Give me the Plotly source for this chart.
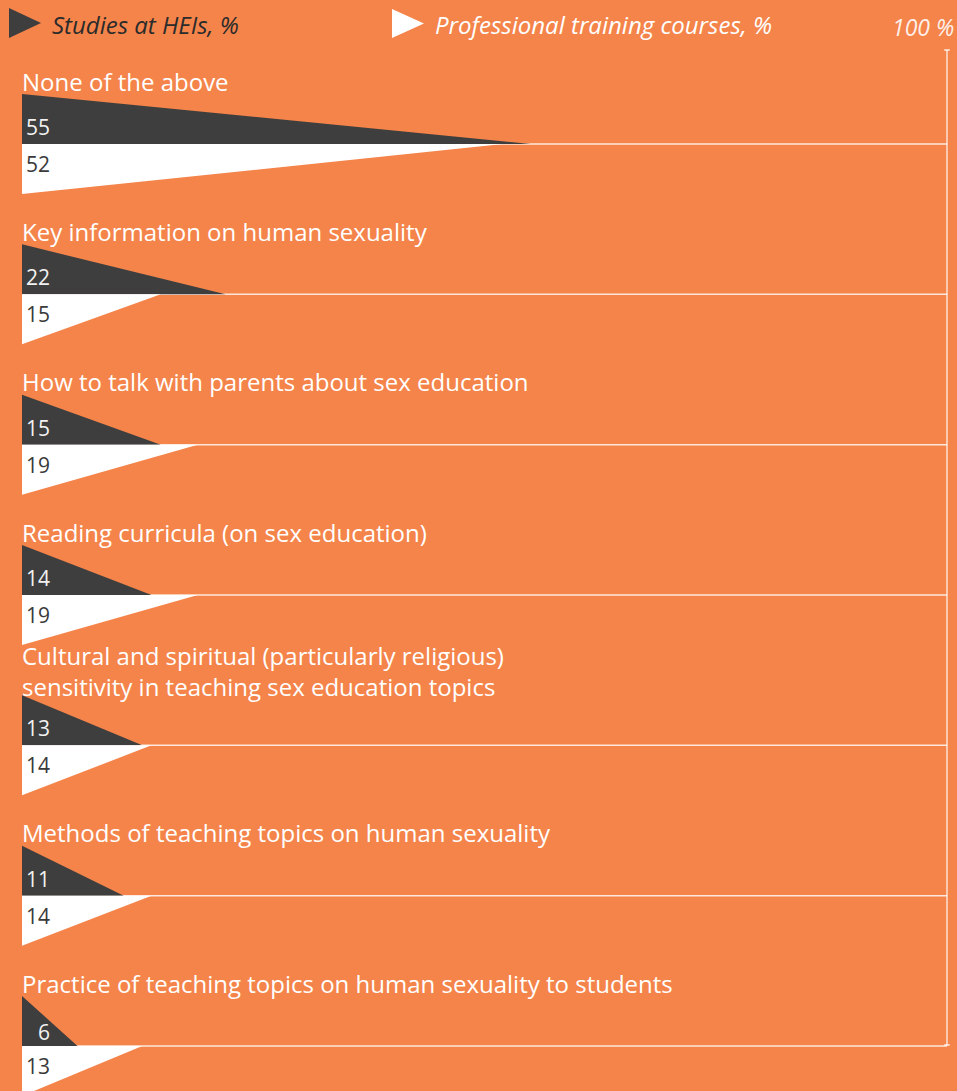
import plotly.graph_objects as go

categories = [
    "None of the above",
    "Key information on human sexuality",
    "How to talk with parents about sex education",
    "Reading curricula (on sex education)",
    "Cultural and spiritual (particularly religious)<br>sensitivity in teaching sex education topics",
    "Methods of teaching topics on human sexuality",
    "Practice of teaching topics on human sexuality to students",
]
studies_hei = [55, 22, 15, 14, 13, 11, 6]
prof_training = [52, 15, 19, 19, 14, 14, 13]
series_names = ["Studies at HEIs, %", "Professional training courses, %"]

W, H = 957, 1091
BG = "#F4844A"
DARK = "#3E3E3E"
WHITE = "#FFFFFF"
FONT = "Open Sans"

# x axis: value 0 -> px 22, value 100 -> px 947
px_per_unit = 9.25
x0 = -22 / px_per_unit
x1 = x0 + W / px_per_unit

first_base, last_base = 144, 1046
n = len(categories)
step = (last_base - first_base) / (n - 1)
tri_h = 50

fig = go.Figure()
shapes = []
annotations = []

for i, (cat, a, b) in enumerate(zip(categories, studies_hei, prof_training)):
    base = first_base + i * step
    shapes.append(dict(type="line", xref="x", yref="y", x0=0, x1=100, y0=base, y1=base,
                       line=dict(color="rgba(255,255,255,0.8)", width=1.5), layer="below"))
    fig.add_trace(go.Scatter(x=[0, a, 0, 0], y=[base, base, base - tri_h, base],
                             fill="toself", fillcolor=DARK, mode="lines",
                             line=dict(width=0, color=DARK), hoverinfo="skip", showlegend=False))
    fig.add_trace(go.Scatter(x=[0, b, 0, 0], y=[base, base, base + tri_h, base],
                             fill="toself", fillcolor=WHITE, mode="lines",
                             line=dict(width=0, color=WHITE), hoverinfo="skip", showlegend=False))
    if a * px_per_unit < 70:
        annotations.append(dict(x=a * 0.4, y=base - 14, text=str(a), showarrow=False,
                                xanchor="center", yanchor="middle",
                                font=dict(family=FONT, size=21, color="#F2F2F2")))
    else:
        annotations.append(dict(x=0.2, y=base - 17, text=str(a), showarrow=False,
                                xanchor="left", yanchor="middle",
                                font=dict(family=FONT, size=21, color="#F2F2F2")))
    annotations.append(dict(x=0.2, y=base + 20, text=str(b), showarrow=False,
                            xanchor="left", yanchor="middle",
                            font=dict(family=FONT, size=21, color="#3A3A3A")))
    nlines = cat.count("<br>") + 1
    annotations.append(dict(x=0, y=base - 63 - 11 * (nlines - 1), text=cat, showarrow=False,
                            xanchor="left", yanchor="middle", align="left", xshift=-2,
                            font=dict(family=FONT, size=24, color=WHITE)))

# right 100% axis
shapes.append(dict(type="line", xref="x", yref="y", x0=100, x1=100, y0=50, y1=1045,
                   line=dict(color="rgba(255,255,255,0.75)", width=1.5)))
for yy in (50, 1045):
    shapes.append(dict(type="line", xref="x", yref="y", x0=100 - 0.3, x1=100 + 0.3, y0=yy, y1=yy,
                       line=dict(color="rgba(255,255,255,0.85)", width=1.5)))
annotations.append(dict(x=1, xref="paper", y=27, yref="y", text="<i>100 %</i>", showarrow=False,
                        xanchor="right", yanchor="middle", xshift=-1,
                        font=dict(family=FONT, size=23, color="rgba(255,255,255,0.9)")))

def tri_path(xl, xr, yt, yb):
    return f"M {xl/W} {yt} L {xr/W} {(yt+yb)/2} L {xl/W} {yb} Z"

shapes.append(dict(type="path", xref="paper", yref="y", path=tri_path(9, 41, 8, 38),
                   fillcolor=DARK, line=dict(width=0)))
shapes.append(dict(type="path", xref="paper", yref="y", path=tri_path(392, 424, 9, 38),
                   fillcolor=WHITE, line=dict(width=0)))
annotations.append(dict(x=50 / W, xref="paper", y=24, yref="y", text=f"<i>{series_names[0]}</i>",
                        showarrow=False, xanchor="left", yanchor="middle",
                        font=dict(family=FONT, size=24, color="#2B2B2B")))
annotations.append(dict(x=433 / W, xref="paper", y=24, yref="y", text=f"<i>{series_names[1]}</i>",
                        showarrow=False, xanchor="left", yanchor="middle",
                        font=dict(family=FONT, size=24, color=WHITE)))

fig.update_layout(
    width=W, height=H,
    margin=dict(l=0, r=0, t=0, b=0),
    paper_bgcolor=BG, plot_bgcolor=BG,
    xaxis=dict(range=[x0, x1], visible=False, fixedrange=True),
    yaxis=dict(range=[H, 0], visible=False, fixedrange=True),
    shapes=shapes, annotations=annotations,
    showlegend=False,
)

fig.write_html("out.html", config={"displayModeBar": False},
               post_script="document.body.style.margin='0';document.body.style.overflow='hidden';")
